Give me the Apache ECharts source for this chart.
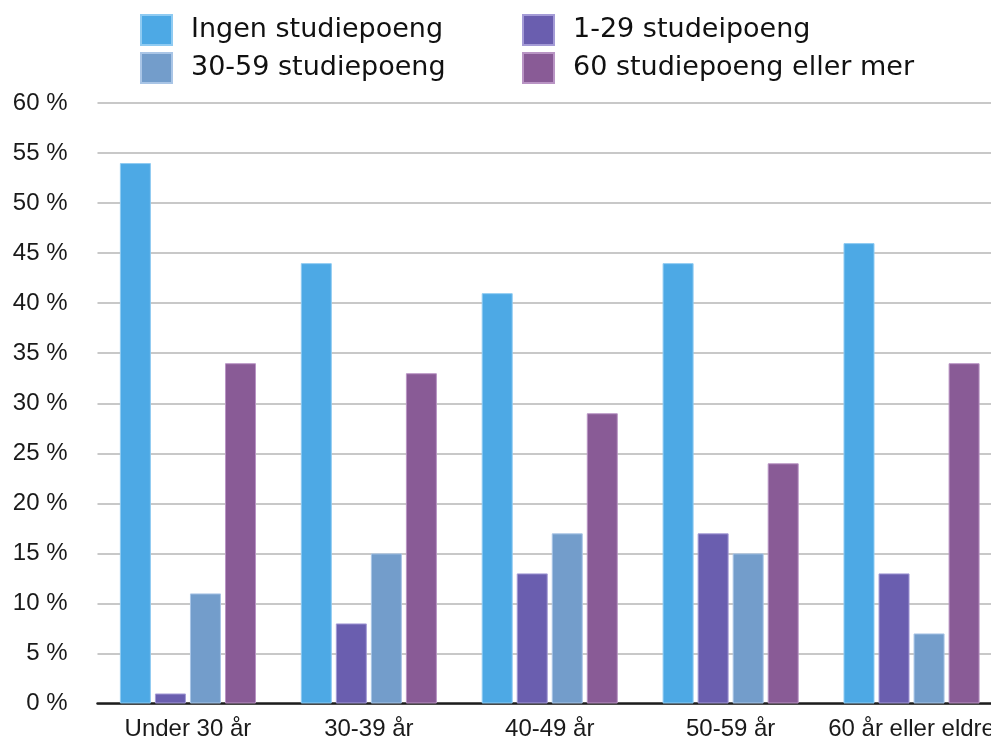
<!DOCTYPE html>
<html>
<head>
<meta charset="utf-8">
<title>Studiepoeng etter alder</title>
<script src="https://cdn.jsdelivr.net/npm/echarts@6/dist/echarts.min.js"></script>
<style>
  html, body { margin: 0; padding: 0; background: #ffffff; }
  #chart { width: 991px; height: 740px; }
</style>
</head>
<body>
<div id="chart"></div>
<script>
// Age groups along the x axis
const categories = ['Under 30 år', '30-39 år', '40-49 år', '50-59 år', '60 år eller eldre'];

// Share of respondents (%) per age group
const ingenStudiepoeng = [54, 44, 41, 44, 46];
const studiepoeng1to29 = [1, 8, 13, 17, 13];
const studiepoeng30to59 = [11, 15, 17, 15, 7];
const studiepoeng60pluss = [34, 33, 29, 24, 34];

const seriesNames = ['Ingen studiepoeng', '1-29 studeipoeng', '30-59 studiepoeng', '60 studiepoeng eller mer'];
const seriesData = [ingenStudiepoeng, studiepoeng1to29, studiepoeng30to59, studiepoeng60pluss];
const fillColors = ['#4da9e5', '#6a5eaf', '#739dcb', '#895b96'];
const edgeColors = ['#8fcbf2', '#a49bd6', '#a9c5e6', '#b994c4'];

const axisFont = 'Liberation Sans, Arial, Helvetica, sans-serif';
const legendFont = 'DejaVu Sans, Verdana, sans-serif';

const legendCommon = {
  orient: 'vertical',
  top: 14,
  padding: 0,
  itemWidth: 31,
  itemHeight: 30,
  itemGap: 6,
  selectedMode: false,
  icon: 'rect',
  textStyle: {
    fontFamily: legendFont,
    fontSize: 27,
    color: '#111111',
    padding: [4, 0, 0, 14]
  }
};

const chart = echarts.init(document.getElementById('chart'), null, { renderer: 'canvas' });

chart.setOption({
  animation: false,
  backgroundColor: '#ffffff',
  color: fillColors,
  legend: [
    Object.assign({}, legendCommon, { left: 140, data: [seriesNames[0], seriesNames[2]] }),
    Object.assign({}, legendCommon, { left: 522, data: [seriesNames[1], seriesNames[3]] })
  ],
  // the plot runs slightly past the right edge of the canvas
  grid: {
    left: 97.5,
    top: 103,
    width: 904.5,
    height: 600.5,
    containLabel: false,
    outerBoundsMode: 'none'
  },
  xAxis: {
    type: 'category',
    data: categories,
    axisLine: { show: true, lineStyle: { color: '#1e1e1e', width: 2.5 } },
    axisTick: { show: false },
    axisLabel: {
      interval: 0,
      margin: 14,
      fontFamily: axisFont,
      fontSize: 24,
      color: '#1a1a1a'
    }
  },
  yAxis: {
    type: 'value',
    min: 0,
    max: 60,
    interval: 5,
    axisLine: { show: false },
    axisTick: { show: false },
    axisLabel: {
      margin: 30,
      fontFamily: axisFont,
      fontSize: 24,
      color: '#1a1a1a',
      formatter: '{value} %'
    },
    splitLine: { show: true, lineStyle: { color: '#c8c8c8', width: 2 } }
  },
  series: seriesNames.map((name, i) => ({
    name: name,
    type: 'bar',
    data: seriesData[i],
    barWidth: 31,
    barGap: '13%',
    itemStyle: {
      color: fillColors[i],
      borderColor: edgeColors[i],
      borderWidth: 1
    }
  }))
});
</script>
</body>
</html>
